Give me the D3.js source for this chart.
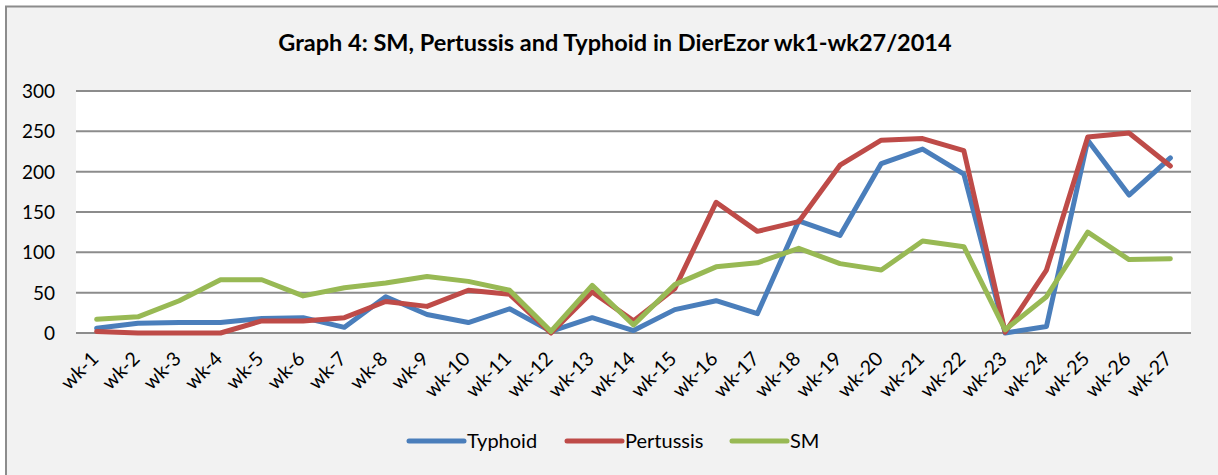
<!DOCTYPE html>
<html>
<head>
  <meta charset="utf-8">
  <title>Graph 4</title>
  <style>
    body {margin:0; background:#fff;}
    svg text {font-family: Lato, "Open Sans", sans-serif; fill:#000;}
    .grid line {stroke:#8c8c8c; stroke-width:2;}
    .series path {fill:none; stroke-width:5; stroke-linejoin:round; stroke-linecap:round;}
  </style>
</head>
<body>
<script src="https://cdn.jsdelivr.net/npm/d3@7"></script>
<script>
  var weeks = d3.range(1, 28).map(function(i){ return 'wk-' + i });

  var typhoid   = [6, 12, 13, 13, 18, 19, 7, 45, 23, 13, 30, 2, 19, 3, 29, 40, 24, 139, 121, 210, 228, 197, 0, 8, 239, 171, 217];
  var pertussis = [2, 0, 0, 0, 15, 15, 19, 39, 33, 53, 48, 0, 51, 15, 55, 162, 126, 138, 208, 239, 241, 226, 1, 78, 243, 248, 207];
  var sm        = [17, 20, 40, 66, 66, 46, 56, 62, 70, 64, 53, 2, 59, 10, 60, 82, 87, 105, 86, 78, 114, 107, 4, 45, 125, 91, 92];

  var yTicks = [0, 50, 100, 150, 200, 250, 300];

  var series = [
    {name: 'Typhoid',   values: typhoid,   color: '#4a7ebb'},
    {name: 'Pertussis', values: pertussis, color: '#be4b48'},
    {name: 'SM',        values: sm,        color: '#98b954'}
  ];

  var width = 1218,
      height = 475,
      plot_left = 76,
      plot_right = 1191,
      plot_top = 91,
      plot_bottom = 333;

  var svg = d3.select('body')
    .append('svg')
    .attr('width', width)
    .attr('height', height);

  // chart area background + border (right/bottom run off the picture)
  svg.append('rect')
    .attr('x', 6).attr('y', 6.5)
    .attr('width', width).attr('height', height)
    .attr('fill', '#f2f2f2')
    .attr('stroke', '#8c8c8c')
    .attr('stroke-width', 2);

  svg.append('rect')
    .attr('x', plot_left).attr('y', plot_top)
    .attr('width', plot_right - plot_left)
    .attr('height', plot_bottom - plot_top)
    .attr('fill', '#fff');

  svg.append('text')
    .attr('x', 615)
    .attr('y', 51)
    .attr('text-anchor', 'middle')
    .style('font-weight', 'bold')
    .style('font-size', '23.5px')
    .text('Graph 4: SM, Pertussis and Typhoid in DierEzor wk1-wk27/2014');

  var x = d3.scaleBand()
    .domain(weeks)
    .range([plot_left, plot_right]);

  var y = d3.scaleLinear()
    .domain([0, 300])
    .range([plot_bottom, plot_top]);

  // gridlines
  svg.append('g')
    .attr('class', 'grid')
    .selectAll('line')
    .data(yTicks)
    .join('line')
      .attr('x1', plot_left)
      .attr('x2', plot_right)
      .attr('y1', function(d){ return y(d) })
      .attr('y2', function(d){ return y(d) });

  // y axis labels
  var yAxis = svg.append('g')
    .attr('transform', 'translate(' + (plot_left - 21) + ',0)')
    .call(d3.axisLeft(y).tickValues(yTicks).tickSize(0).tickPadding(0));
  yAxis.select('.domain').remove();
  yAxis.selectAll('text')
    .style('font-size', '19px')
    .attr('text-anchor', 'end')
    .attr('dy', '0.35em');

  // x axis labels
  var xAxis = svg.append('g')
    .attr('transform', 'translate(0,' + plot_bottom + ')')
    .call(d3.axisBottom(x).tickSize(0).tickPadding(0));
  xAxis.select('.domain').remove();
  xAxis.selectAll('text')
    .style('font-size', '19.5px')
    .attr('text-anchor', 'end')
    .attr('y', 0)
    .attr('dy', 0)
    .attr('transform', 'translate(3,27) rotate(-45)');

  var line = d3.line()
    .x(function(d, i){ return x(weeks[i]) + x.bandwidth() / 2 })
    .y(function(d){ return y(d) });

  svg.append('g')
    .attr('class', 'series')
    .selectAll('path')
    .data(series)
    .join('path')
      .attr('stroke', function(d){ return d.color })
      .attr('d', function(d){ return line(d.values) });

  // legend
  var legendX = [409, 567, 732];
  var legend = svg.append('g')
    .selectAll('g')
    .data(series)
    .join('g')
      .attr('transform', function(d, i){ return 'translate(' + legendX[i] + ',441)' });

  legend.append('line')
    .attr('x1', 0).attr('x2', 55)
    .attr('stroke', function(d){ return d.color })
    .attr('stroke-width', 5)
    .attr('stroke-linecap', 'round');

  legend.append('text')
    .attr('x', 58)
    .attr('dy', '0.35em')
    .style('font-size', '20px')
    .text(function(d){ return d.name });
</script>
</body>
</html>
